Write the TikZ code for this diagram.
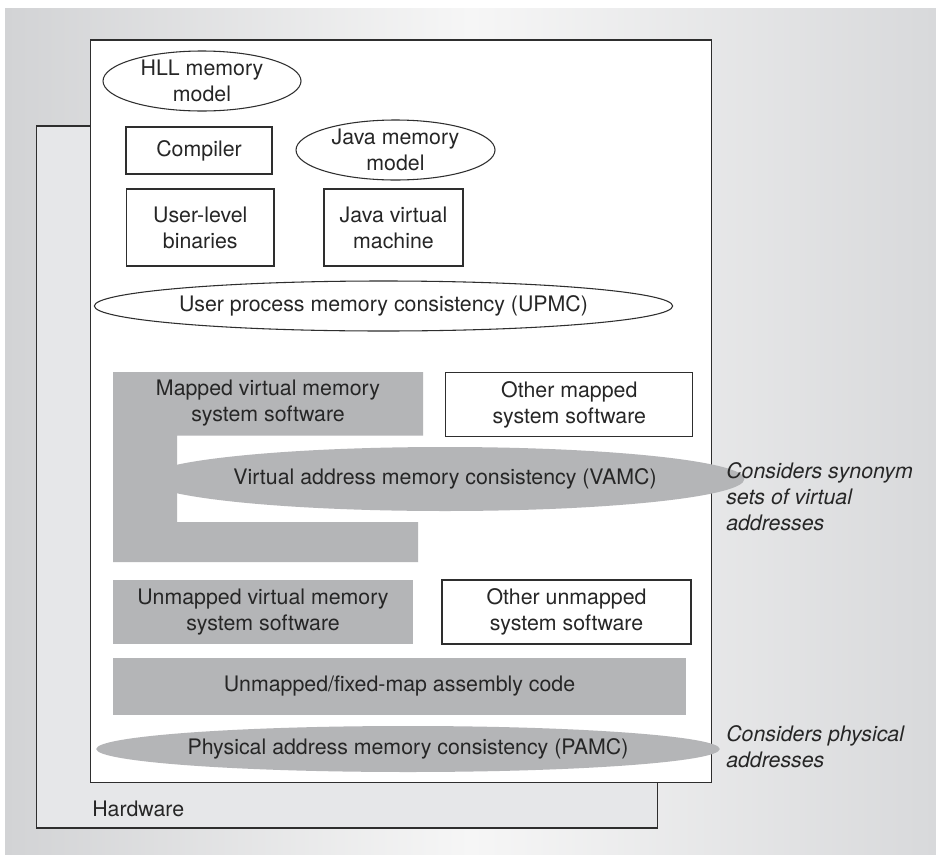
\documentclass[tikz,border=0pt]{standalone}
\usepackage{fontspec}
\setmainfont{TeX Gyre Heros}
\usetikzlibrary{shapes.geometric}
\definecolor{bgL}{HTML}{D2D3D5}
\definecolor{bgM}{HTML}{F6F6F6}
\definecolor{bgR}{HTML}{D8D9DB}
\definecolor{hwfill}{HTML}{E6E7E9}
\definecolor{grayfill}{HTML}{B4B5B7}
\definecolor{txt}{HTML}{262626}
\definecolor{edge}{HTML}{2E2E2E}
\tikzset{
  lbl/.style={font=\fontsize{16}{19.5}\selectfont, text=txt, align=center, inner sep=0pt},
  note/.style={font=\fontsize{16}{19.5}\selectfont\itshape, text=txt, align=left, inner sep=0pt},
  sz/.style 2 args={minimum width=#1*0.75pt, minimum height=#2*0.75pt},
  whitebox/.style={lbl, draw=edge, line width=0.8pt, fill=white, rectangle, outer sep=0pt},
  graybox/.style={lbl, fill=grayfill, rectangle, outer sep=0pt},
  wellipse/.style={lbl, draw=edge, line width=0.8pt, fill=white, ellipse, outer sep=0pt},
  gellipse/.style={lbl, fill=grayfill, ellipse, outer sep=0pt},
  frame/.style={draw=edge, line width=1pt}
}
\begin{document}
\begin{tikzpicture}[x=0.75pt,y=-0.75pt]
\useasboundingbox (0,0) rectangle (936,857);
% background
\fill[left color=bgL, right color=bgR, middle color=bgM] (5,8) rectangle (936,854);
% hardware box
\draw[frame, fill=hwfill] (36.5,126) rectangle (657.7,828);
\node[lbl, anchor=base west] (hw) at (92,816) {Hardware};
% main box
\draw[frame, fill=white] (90.7,40) rectangle (711.7,782.7);
% top layer
\node[wellipse, sz={198}{60}] (hll) at (202,81) {HLL memory\\model};
\node[whitebox, sz={146}{47}] (comp) at (199,150.5) {Compiler};
\node[wellipse, sz={199}{60}] (jmm) at (395.5,150) {Java memory\\model};
\node[whitebox, sz={147.5}{77}] (ulb) at (200.25,227.5) {User-level\\binaries};
\node[whitebox, sz={139}{77}] (jvm) at (393.5,227.5) {Java virtual\\machine};
\node[wellipse, sz={551}{50}] (upmc) at (383.5,306) {User process memory consistency (UPMC)};
% mapped virtual memory system software (C-shape)
\fill[grayfill] (113,372) -- (423,372) -- (423,435.5) -- (177,435.5) -- (177,522) -- (418,522) -- (418,562) -- (113,562) -- cycle;
\node[lbl] (mapped) at (268,403.5) {Mapped virtual memory\\system software};
\node[whitebox, sz={247}{64}] (othmap) at (569.3,404.7) {Other mapped\\system software};
\node[gellipse, sz={508}{64}] (vamc) at (445,479) {Virtual address memory consistency (VAMC)};
% unmapped
\node[graybox, sz={300}{64}] (unmap) at (263,612) {Unmapped virtual memory\\system software};
\node[whitebox, sz={249}{64}] (othunmap) at (566.5,612) {Other unmapped\\system software};
\node[graybox, sz={573}{57}] (asm) at (399.5,686.5) {Unmapped/fixed-map assembly code};
\node[gellipse, sz={576}{46}] (pamc) at (408,749) {Physical address memory consistency (PAMC)};
% side notes
\node[note, anchor=west] (syn) at (726,497) {Considers synonym\\sets of virtual\\addresses};
\node[note, anchor=west] (phys) at (726,747) {Considers physical\\addresses};
\end{tikzpicture}
\end{document}
